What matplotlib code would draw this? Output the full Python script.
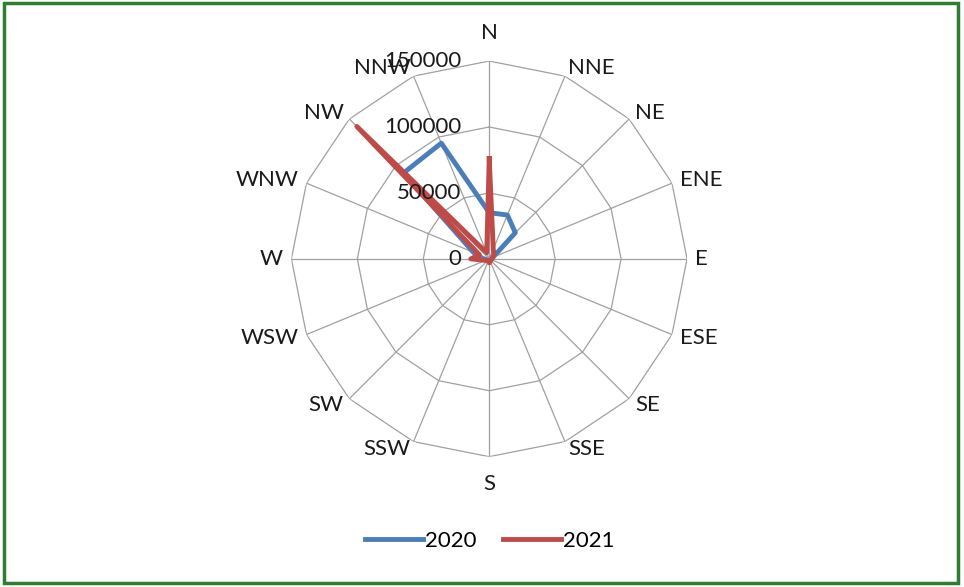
import numpy as np
import matplotlib
matplotlib.use("Agg")
from matplotlib import pyplot as plt
from matplotlib.patches import Rectangle

directions = ['N', 'NNE', 'NE', 'ENE', 'E', 'ESE', 'SE', 'SSE',
              'S', 'SSW', 'SW', 'WSW', 'W', 'WNW', 'NW', 'NNW']
vals_2020 = [35000, 36000, 28000, 3000, 2000, 1500, 1500, 1500,
             2000, 1500, 1500, 2000, 5000, 13000, 92000, 95000]
vals_2021 = [76000, 8000, 5000, 3000, 2000, 1500, 1500, 2000,
             3000, 2000, 2000, 3000, 14000, 8000, 142000, 5000]
ring_values = [0, 50000, 100000, 150000]

plt.rcParams['font.family'] = ['Lato', 'DejaVu Sans']

fig = plt.figure(figsize=(9.64, 5.87), dpi=100)
ax = fig.add_axes([0.302, 0.222, 0.411, 0.674], projection='polar')
ax.set_theta_zero_location('N')
ax.set_theta_direction(-1)
ax.set_ylim(0, 150000)
ax.grid(False)
ax.spines['polar'].set_visible(False)
ax.set_xticks([])
ax.set_yticks([])
ax.patch.set_alpha(0)

n = len(directions)
theta = np.arange(n) * 2 * np.pi / n
theta_c = np.append(theta, theta[0])

# polygon grid like excel radar
for r in ring_values[1:]:
    ax.plot(theta_c, [r] * (n + 1), color='#a0a0a0', lw=0.9, zorder=1)
for t in theta:
    ax.plot([t, t], [0, 150000], color='#a0a0a0', lw=0.9, zorder=1)

ax.plot(theta_c, vals_2020 + vals_2020[:1], color='#4a7ebb', lw=3.5,
        label='2020', zorder=3)
ax.plot(theta_c, vals_2021 + vals_2021[:1], color='#be4b48', lw=3.5,
        label='2021', zorder=4)

for t, name in zip(theta, directions):
    s, c = np.sin(t), np.cos(t)
    ha = 'center' if abs(s) < 0.1 else ('left' if s > 0 else 'right')
    if abs(s) < 0.1:
        off = (0, 20 * c)
    else:
        off = (6 * s, 6 * c)
    ax.annotate(name, xy=(t, 150000), xytext=off,
                textcoords='offset points', ha=ha, va='center', fontsize=16,
                color='#1a1a1a')

for r in ring_values:
    ax.annotate(str(r), xy=(0, r), xytext=(-20, 0), textcoords='offset points',
                ha='right', va='center', fontsize=16, color='#1a1a1a', zorder=5)

fig.legend(loc='center', bbox_to_anchor=(0.508, 0.078), ncol=2, frameon=False,
           fontsize=16, handlelength=2.6, columnspacing=1.2, handletextpad=0.1)

fig.patches.append(Rectangle((0.004, 0.007), 0.99, 0.988, transform=fig.transFigure,
                             fill=False, edgecolor='#2e7d32', lw=2.5))

fig.savefig('out.png', dpi=100)
